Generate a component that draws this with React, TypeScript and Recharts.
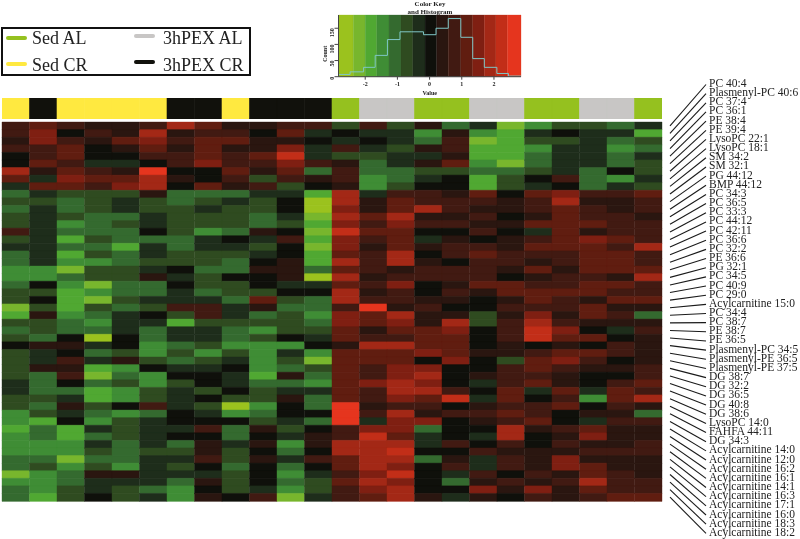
import { BarChart, Bar, Cell, XAxis, YAxis, ComposedChart, Line, ReferenceArea } from 'recharts';

const lipidLabels = [
  'PC 40:4', 'Plasmenyl-PC 40:6', 'PC 37:4', 'PC 36:1', 'PE 38:4', 'PE 39:4', 'LysoPC 22:1', 'LysoPC 18:1', 'SM 34:2', 'SM 32:1',
  'PG 44:12', 'BMP 44:12', 'PC 34:3', 'PC 36:5', 'PC 33:3', 'PC 44:12', 'PC 42:11', 'PC 36:6', 'PC 32:2', 'PE 36:6',
  'PG 32:1', 'PC 34:5', 'PC 40:9', 'PC 29:0', 'Acylcarnitine 15:0', 'PC 34:4', 'PC 38:7', 'PE 38:7', 'PE 36:5', 'Plasmenyl-PC 34:5',
  'Plasmenyl-PE 36:5', 'Plasmenyl-PE 37:5', 'DG 38:7', 'DG 32:2', 'DG 36:5', 'DG 40:8', 'DG 38:6', 'LysoPC 14:0', 'FAHFA 44:11', 'DG 34:3',
  'Acylcarnitine 14:0', 'Acylcarnitine 12:0', 'Acylcarnitine 16:2', 'Acylcarnitine 16:1', 'Acylcarnitine 14:1', 'Acylcarnitine 16:3',
  'Acylcarnitine 17:1', 'Acylcarnitine 16:0', 'Acylcarnitine 18:3', 'Acylcarnitine 18:2',
];

// sample group of each column
const sampleGroups = [
  'Sed CR', '3hPEX CR', 'Sed CR', 'Sed CR', 'Sed CR', 'Sed CR', '3hPEX CR', '3hPEX CR', 'Sed CR', '3hPEX CR', '3hPEX CR', '3hPEX CR',
  'Sed AL', '3hPEX AL', '3hPEX AL', 'Sed AL', 'Sed AL', '3hPEX AL', '3hPEX AL', 'Sed AL', 'Sed AL', '3hPEX AL', '3hPEX AL', 'Sed AL',
];

const groupNames = ['Sed AL', 'Sed CR', '3hPEX AL', '3hPEX CR'];
const groupColors = ['#95C11F', '#FFE940', '#C8C6C5', '#11110C'];

// colour key, from the lowest bin to the highest
const keyColors = [
  '#9BC21E', '#78B62D', '#50A832', '#3F8D35', '#346A2F', '#2F4B20', '#1E2D1B', '#0F100B',
  '#2A1610', '#411A12', '#601D10', '#7F1F12', '#A32816', '#C22E18', '#E5351E',
];
const keyEdges = [-2.83, -2.37, -2.0, -1.64, -1.26, -0.89, -0.52, -0.14, 0.22, 0.58, 0.97, 1.34, 1.70, 2.06, 2.42, 2.84];

const histEdges = [-2.83, -2.47, -2.05, -1.69, -1.31, -0.92, -0.55, -0.19, 0.2, 0.58, 0.97, 1.34, 1.7, 2.09, 2.45, 2.84];
const histCounts = [7, 15, 29, 66, 115, 139, 139, 130, 150, 180, 122, 56, 29, 10, 2, 2];

// one row per lipid, one number per sample, in colour key steps (-7 lime, 0 black, 7 red)
const rowSteps = [
  [2, 3, 2, 1, 1, 2, 5, 3, 1, 1, 2, 2, -2, 2, -2, 1, -3, -1, -6, -4, -2, -2, -3, -1],
  [2, 4, 0, 2, 1, 5, 1, 2, 2, 0, 3, -1, 0, -1, -1, -4, 1, -4, -5, -1, 0, -1, -1, -5],
  [1, 4, 2, 1, 3, 4, 2, 3, 3, 1, 1, 0, -1, 0, -1, -3, 2, -6, -5, -2, -2, -1, -3, -2],
  [2, 2, 3, 0, 1, 3, 1, 3, 1, 1, 4, -1, 2, -1, -2, 1, 2, -5, -5, -4, -1, -1, -4, -3],
  [0, 2, 3, 0, 0, 2, 2, 3, 2, 3, 6, -1, -2, -2, -1, -1, 1, -5, -5, -3, -1, -1, -3, -1],
  [0, 3, 2, -1, -1, 0, 2, 4, 2, 2, 4, 2, 1, -3, -1, 1, 3, -4, -6, -3, -1, -1, -3, -2],
  [5, 1, 3, 2, 1, 7, 0, 0, 3, 1, 3, -3, 2, -3, -3, -2, -2, -3, -3, -2, -1, -3, 0, -2],
  [3, -1, 4, 3, 3, 5, 1, 0, 2, -2, 2, 1, 2, -4, -3, -1, 0, -5, -2, 0, 2, -3, -4, -1],
  [-1, 3, 3, 2, 4, 5, 0, 3, 1, 2, -2, 0, 1, -4, -2, 0, 0, -5, -2, -1, 0, -3, -1, -2],
  [-3, -1, -2, -2, -2, 1, -3, -3, -3, -1, -1, -5, 5, -1, 2, 2, 1, 3, 0, 3, 4, 2, 2, 3],
  [-2, -2, -3, -2, -1, -2, -3, -2, -1, -2, 0, -7, 5, 1, 3, 2, 2, 2, 1, 2, 5, 1, 1, 2],
  [-3, -1, -3, -2, -1, -2, -2, -1, -2, -2, 0, -7, 4, 1, 3, 5, 2, 1, 1, 2, 3, 2, 1, 2],
  [-2, -1, -2, -3, -3, -1, -2, -2, -2, -3, -1, -6, 5, 3, 5, 1, 1, 2, 0, 1, 3, 2, 2, 1],
  [-2, -1, -4, -3, -2, -1, -2, -2, -2, -3, -2, -5, 4, 2, 4, 2, 2, 1, 1, 3, 3, 3, 2, 2],
  [2, -1, -3, -3, -3, 0, -2, -4, -3, 1, 0, -6, 6, 3, 3, 0, 0, 2, 0, -1, 3, 1, 2, 2],
  [-2, -1, -5, -2, -3, -3, -3, -1, 0, -1, 2, -5, 4, 2, 3, -1, 1, 0, 1, 2, 3, 4, 3, 2],
  [-1, -1, -3, -3, -5, -1, -3, -1, -1, -2, 0, -6, 4, 1, 3, 1, 2, 2, 1, 3, 3, 3, 2, 5],
  [-3, -1, -5, -2, -3, -1, -2, -2, -2, -1, 0, -5, 3, 2, 5, 0, 2, 3, 2, 2, 2, 3, 3, 2],
  [-3, -1, -4, -4, -3, -2, -2, -2, -3, 0, 1, -5, 5, 2, 5, 1, 0, 2, 2, 1, 2, 3, 3, 2],
  [-4, -4, -6, -2, -2, -1, 0, -3, -3, 1, 1, -3, 3, 2, 1, 2, 2, 2, 1, 3, 1, 3, 3, 3],
  [-4, -4, -3, -2, -2, 1, -1, -2, 0, 0, 1, -7, 5, 1, 2, 2, 2, 2, 0, 1, 2, 2, 1, 5],
  [-3, 0, -4, -6, -3, -3, 0, -2, -2, 0, -1, -1, 3, 2, 4, 0, 1, 3, 3, 2, 2, 3, 3, 2],
  [-2, -2, -5, -4, -3, -3, -1, -3, -2, -2, 0, 0, 5, 1, 2, 0, 2, 1, 3, 3, 3, 3, 2, 2],
  [-2, 0, -5, -6, -2, -1, -1, -1, -3, 3, -2, -3, 5, 2, 2, 1, 1, 0, 1, 3, 2, 1, 3, 3],
  [-6, -2, -5, -2, -3, -2, 2, 2, -1, 1, -3, -3, 2, 7, 1, 2, 0, 0, 2, 2, 2, 3, 1, 1],
  [-5, 1, -4, -3, -1, 0, -2, 2, -1, -3, -2, -4, 4, 3, 5, 1, 1, -2, 1, 4, 1, 3, 2, -3],
  [-2, -2, -3, -4, -1, -1, -5, -2, -2, -2, -2, -3, 4, 3, 4, 1, 5, -2, 2, 5, 2, 1, 1, 1],
  [-3, -2, -3, -3, -1, -3, -1, -1, -3, -4, -2, -2, 3, 1, 3, 3, 4, 0, 2, 6, 4, 0, -1, 2],
  [-2, -3, 0, -7, 0, -3, -1, -1, -3, -2, 0, -1, 3, 2, 2, 3, 3, 0, 2, 6, 3, 3, 0, 1],
  [0, 1, 1, -1, 0, -4, -3, -2, -4, -4, -4, 0, 1, 5, 5, 3, 3, 0, 1, 0, 1, 0, 2, 1],
  [-2, -1, 0, -3, -2, -4, -2, -4, -2, -4, -1, -4, 3, 3, 3, 4, 3, 1, 1, 2, 3, 3, 2, 1],
  [-2, -1, 2, -1, 1, -2, -3, -2, -1, -4, -2, -6, 3, 3, 3, 0, 4, 0, -2, 3, 4, 2, 0, 1],
  [-2, 1, 1, -5, -4, 0, -1, -1, 0, -4, -3, -2, 3, 2, 4, 4, 0, 0, 2, 3, 2, 1, 1, 2],
  [-2, -3, 2, -6, -3, -4, 0, 0, -1, -5, 1, -3, 3, 2, 4, 5, 0, 1, 2, 2, 1, 0, 0, 2],
  [-1, -3, 0, -3, -2, -4, -2, 0, -1, -3, -3, -4, 3, 4, 5, 4, 0, -1, 2, 3, 1, 0, 2, 3],
  [-1, -3, -3, -5, -4, -2, -1, -2, 0, -2, -1, -1, 3, 2, 5, 5, 2, 0, 3, -1, 3, -1, 3, 2],
  [-2, -2, -1, -5, -4, -2, -1, 0, -2, -2, 1, -3, 3, 2, 4, 3, 6, -1, 3, 0, 2, -4, 3, 5],
  [-2, -3, 1, -2, 0, 2, -1, -2, -7, -4, 0, -3, 7, 1, 2, 2, 0, 1, 2, 2, 3, 0, 2, 1],
  [-4, -2, -1, -3, -4, -3, 0, -1, -4, -3, 0, 0, 7, 2, 5, 1, 2, 2, 3, 2, 0, 1, 1, -3],
  [-4, -5, 0, -4, -2, -1, 0, 0, 0, -2, -1, -3, 7, -1, 4, 4, 0, 1, 2, 3, 0, -1, 2, 2],
  [-5, -3, -5, -1, -2, -1, -1, 2, -3, 1, -2, 0, 2, 4, 4, -3, 0, 0, 5, 1, 2, 3, 1, 1],
  [-4, -3, -5, -3, -2, -1, 0, 0, -3, 0, -1, 1, 2, 6, 3, -1, 0, -1, 5, 0, 1, 4, 1, 1],
  [-4, -4, -4, -1, -3, -1, -3, 1, -1, 1, -4, 1, 5, 5, 5, -1, 2, 0, 2, 0, 2, 1, 1, 2],
  [-4, -4, -4, -2, -3, -2, -2, 1, -2, 0, -3, 0, 5, 5, 6, 0, 0, 2, 1, 1, 1, 2, 2, 2],
  [-3, -3, -6, -3, -3, -1, -1, 2, -2, 1, -1, 2, 3, 5, 5, -3, 1, -1, 2, 1, 4, 1, 1, 1],
  [-3, -2, -4, -2, -4, -1, -2, 0, -3, 0, -3, 0, 3, 5, 4, 0, 2, -1, 2, 1, 4, 3, 1, 1],
  [-6, -4, -3, 1, 1, -1, -1, -1, -2, 0, -4, -1, 2, 4, 6, 0, -1, 2, 0, 2, 1, 3, 2, 1],
  [-4, -4, -3, -1, -1, -1, -3, 1, -2, 0, -3, -2, 3, 5, 4, 0, -3, 1, 2, 1, 2, 5, 2, 2],
  [-3, -4, -2, -1, -2, -3, -4, 0, -2, -1, -4, -2, 2, 4, 5, 0, 0, 4, 1, 4, 1, 3, 2, 2],
  [-3, -5, -2, 0, -2, -1, -4, 1, 0, 2, -6, -1, 2, 3, 5, 1, -1, 1, 0, 2, 1, 2, 3, 3],
];

const columnKeys = sampleGroups.map((_, i) => 'c' + i);
const stepColor = (step: number) => keyColors[step + 7];
const unitCells = () => Object.fromEntries(columnKeys.map((k) => [k, 1]));

const heatData = lipidLabels.map((label) => ({ label, ...unitCells() }));
const annotationData = [{ name: 'group', ...unitCells() }];
const histData = histEdges.map((value, i) => ({ value, count: histCounts[i] }));

const serif = '"Liberation Serif", serif';

function LipidTick({ x, y, payload, index }: any) {
  const labelY = 83 + index * 9.16;
  return (
    <g>
      <line x1={x + 2} y1={y} x2={706} y2={labelY + 1.5} stroke="#1a1a1a" strokeWidth={1.1} />
      <text x={709} y={labelY + 4} fontFamily={serif} fontSize={11.5} fill="#222">{payload.value}</text>
    </g>
  );
}

function LegendItem({ name, swatchX, swatchY, textX, textY }: any) {
  const color = groupColors[groupNames.indexOf(name)];
  return (
    <>
      <div style={{ position: 'absolute', left: swatchX, top: swatchY - 2, width: 21, height: 4, borderRadius: 2, background: color }} />
      <div style={{ position: 'absolute', left: textX, top: textY - 10, fontSize: 18, lineHeight: '20px', fontFamily: serif, color: '#222', whiteSpace: 'nowrap' }}>{name}</div>
    </>
  );
}

export default function App() {
  return (
    <div style={{ position: 'absolute', left: 0, top: 0, width: 800, height: 539, background: '#fff', overflow: 'hidden', fontFamily: serif, filter: 'blur(0.35px)' }}>
      <div style={{ position: 'absolute', left: 1, top: 27, width: 246, height: 45, border: '2px solid #111' }} />
      <LegendItem name="Sed AL" swatchX={6} swatchY={38} textX={32} textY={38} />
      <LegendItem name="Sed CR" swatchX={6} swatchY={64} textX={32} textY={65} />
      <LegendItem name="3hPEX AL" swatchX={134} swatchY={36} textX={163} textY={38} />
      <LegendItem name="3hPEX CR" swatchX={134} swatchY={62} textX={163} textY={65} />

      <div style={{ position: 'absolute', left: 330, top: 0, width: 200, textAlign: 'center', fontSize: 7, lineHeight: '8px', fontWeight: 'bold', color: '#222' }}>
        Color Key<br />and Histogram
      </div>

      <div style={{ position: 'absolute', left: 300, top: 0 }}>
        <ComposedChart width={240} height={100} data={histData} margin={{ top: 15, right: 19, bottom: 0, left: 0 }}>
          <XAxis dataKey="value" type="number" domain={[-2.83, 2.84]} ticks={[-2, -1, 0, 1, 2]} allowDataOverflow
            height={23.3} tickSize={3} tickMargin={2} stroke="#444"
            tick={{ fontSize: 6, fontWeight: 'bold', fontFamily: serif, fill: '#222' }}
            label={{ value: 'Value', position: 'insideBottom', offset: 5, fontSize: 6, fontWeight: 'bold', fontFamily: serif, fill: '#222' }} />
          <YAxis type="number" domain={[0, 191]} ticks={[0, 50, 100, 150]} width={38.5}
            tickSize={4} tickMargin={3} stroke="#444" angle={-90}
            tick={{ fontSize: 6, fontWeight: 'bold', fontFamily: serif, fill: '#222' }}
            label={{ value: 'Count', angle: -90, position: 'insideRight', offset: 14, fontSize: 6, fontWeight: 'bold', fontFamily: serif, fill: '#222' }} />
          {keyColors.map((color, i) => (
            <ReferenceArea key={color} x1={keyEdges[i]} x2={keyEdges[i + 1]} y1={0} y2={191} fill={color} fillOpacity={1} stroke={color} strokeWidth={0.3} />
          ))}
          <Line type="stepAfter" dataKey="count" stroke="#7FC6C6" strokeWidth={1} dot={false} isAnimationActive={false} />
        </ComposedChart>
      </div>

      <div style={{ position: 'absolute', left: 2, top: 98 }}>
        <BarChart width={660} height={21} data={annotationData} layout="vertical" barCategoryGap={0} margin={{ top: 0, right: 0, bottom: 0, left: 0 }}>
          <XAxis type="number" domain={[0, 24]} hide />
          <YAxis type="category" dataKey="name" hide />
          {columnKeys.map((key, col) => {
            const color = groupColors[groupNames.indexOf(sampleGroups[col])];
            return (
              <Bar key={key} dataKey={key} stackId="a" isAnimationActive={false}>
                <Cell fill={color} stroke={color} strokeWidth={0.6} />
              </Bar>
            );
          })}
        </BarChart>
      </div>

      <div style={{ position: 'absolute', left: 0, top: 0 }}>
        <BarChart width={800} height={539} data={heatData} layout="vertical" barCategoryGap={0} margin={{ top: 122, right: 0, bottom: 38, left: 2 }}>
          <XAxis type="number" domain={[0, 24]} hide />
          <YAxis type="category" dataKey="label" orientation="right" width={138} interval={0}
            axisLine={false} tickLine={false} tickMargin={0} tick={<LipidTick />} />
          {columnKeys.map((key, col) => (
            <Bar key={key} dataKey={key} stackId="a" isAnimationActive={false}>
              {rowSteps.map((row, r) => (
                <Cell key={r} fill={stepColor(row[col])} stroke={stepColor(row[col])} strokeWidth={0.4} />
              ))}
            </Bar>
          ))}
        </BarChart>
      </div>
    </div>
  );
}
